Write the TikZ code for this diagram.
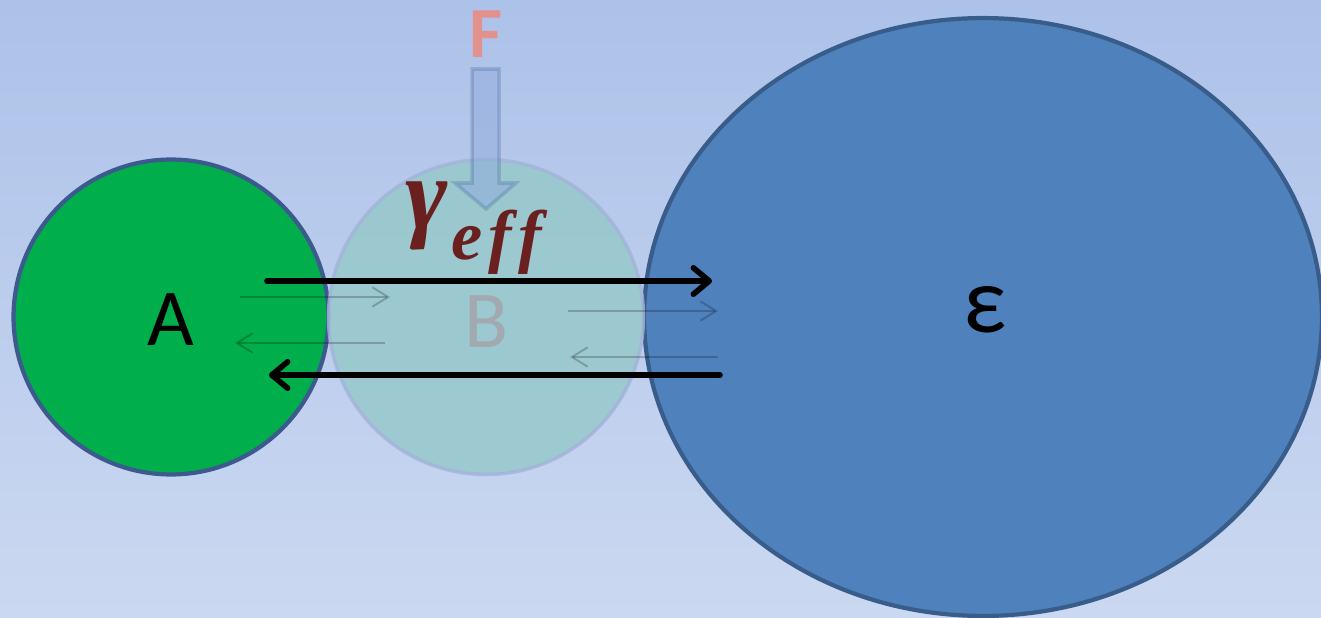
\documentclass[tikz,border=0pt]{standalone}
\usepackage{amsmath,amssymb}
\usepackage{fontspec}
\setmainfont{Carlito}
\newfontfamily\ratefont{Liberation Serif}
\usetikzlibrary{arrows.meta,shapes.geometric}
\definecolor{bgtop}{HTML}{ADC2E9}
\definecolor{bgbottom}{HTML}{CBD8F1}
\definecolor{agreen}{HTML}{00AE4B}
\definecolor{arim}{HTML}{3D5A8E}
\definecolor{bteal}{HTML}{97C8CB}
\definecolor{brim}{HTML}{A3B3DA}
\definecolor{eblue}{HTML}{4F81BD}
\definecolor{erim}{HTML}{385D8A}
\definecolor{gammared}{HTML}{6B2020}
\definecolor{fpink}{HTML}{E3918D}
\definecolor{fblock}{HTML}{8EAADB}
\definecolor{bgray}{HTML}{A2A9B0}

\begin{document}
\begin{tikzpicture}[x=0.02cm, y=-0.02cm, >=Latex,
    bigflow/.style={line width=3.2pt, line cap=round,
      -{Straight Barb[length=9pt, width=15pt, round]}},
    faintflow/.style={line width=1.1pt, draw=black, draw opacity=0.22,
      -{Straight Barb[length=9pt, width=11pt]}},
    bigletter/.style={font=\fontsize{46}{50}\selectfont}]
  % ---------------- background ----------------
  \useasboundingbox (0,0) rectangle (1321,618);
  \clip (0,0) rectangle (1321,618);
  \shade[top color=bgtop, bottom color=bgbottom] (0,0) rectangle (1321,618);

  % ---------------- the three regions ----------------
  \node[circle, minimum size=6.3cm, fill=agreen, draw=arim, line width=2.4pt]
    (A) at (171,317) {};
  \node[ellipse, minimum width=13.56cm, minimum height=11.96cm, fill=eblue,
    draw=erim, line width=2.4pt] (E) at (983,317) {};
  \node[circle, minimum size=6.3cm, fill=bteal, fill opacity=0.85,
    draw=brim, draw opacity=0.8, line width=2pt] (B) at (486,317) {};

  \node[bigletter] (Alabel) at (171,320) {A};
  \node[bigletter, text=bgray] (Blabel) at (486,322) {B};
  \node[font=\fontsize{54}{58}\selectfont] (Elabel) at (985,310) {ε};

  % ---------------- transfer arrows ----------------
  \coordinate (toptail) at (267,281);
  \coordinate (tophead) at (712,281);
  \coordinate (lowtail) at (720,375);
  \coordinate (lowhead) at (269,375);
  \draw[bigflow] (toptail) -- (tophead);
  \draw[bigflow] (lowtail) -- (lowhead);

  % faint arrows A <-> B and B <-> E
  \coordinate (abr1) at (240,297); \coordinate (abr2) at (390,297);
  \coordinate (abl1) at (385,343); \coordinate (abl2) at (235,343);
  \coordinate (ber1) at (568,311); \coordinate (ber2) at (718,311);
  \coordinate (bel1) at (718,357); \coordinate (bel2) at (570,357);
  \draw[faintflow] (abr1) -- (abr2);
  \draw[faintflow] (abl1) -- (abl2);
  \draw[faintflow] (ber1) -- (ber2);
  \draw[faintflow] (bel1) -- (bel2);

  % ---------------- forcing F ----------------
  \node[text=fpink, font=\fontsize{41}{45}\selectfont\bfseries] (F) at (486,34) {F};
  \draw[fill=fblock, fill opacity=0.5, draw=erim, draw opacity=0.25, line width=2pt]
    (472,69) -- (499,69) -- (499,183) -- (516,183) -- (486,209)
    -- (455,183) -- (472,183) -- cycle;

  % ---------------- effective rate ----------------
  \node[text=gammared, font=\ratefont\bfseries\itshape\fontsize{58}{62}\selectfont,
    inner sep=0pt] (gamma) at (474,228)
    {γ\kern2pt\raisebox{-0.3em}{\fontsize{40}{44}\selectfont e\kern3pt f\kern4pt f}};
\end{tikzpicture}
\end{document}
